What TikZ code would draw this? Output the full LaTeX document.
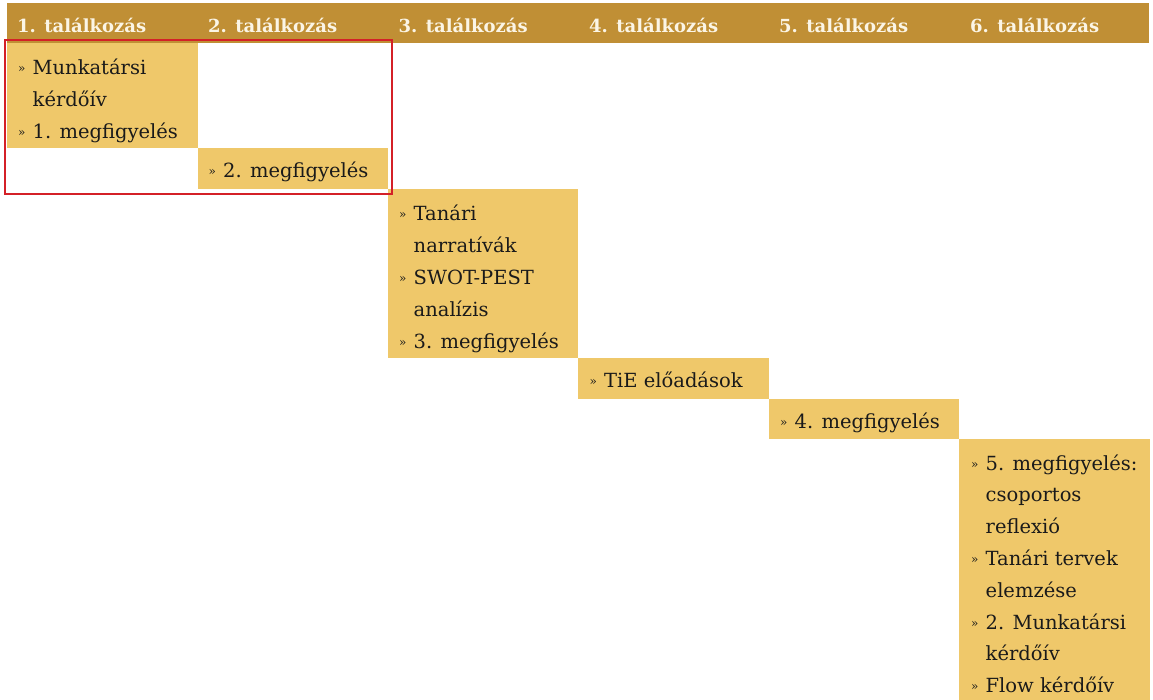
\documentclass[tikz,border=0pt]{standalone}
\usepackage{fontspec}
\setmainfont{DejaVu Serif}
\definecolor{hdr}{HTML}{C08F35}
\definecolor{cellc}{HTML}{EFC86A}
\definecolor{redc}{HTML}{D42027}
\definecolor{ink}{HTML}{1A1A1A}
\definecolor{hdrtxt}{HTML}{FBF5E6}
\newcommand\bl{\makebox[14.5pt][l]{\raisebox{2pt}{\fontsize{12}{12}\selectfont »}}}
\newcommand\ind{\hspace*{14.5pt}}
\newcommand\celltext[1]{\parbox[t]{180pt}{\fontsize{19.5}{31.8}\selectfont\raggedright #1}}
\tikzset{
  bar/.style={fill=hdr, draw=none, inner sep=0pt, anchor=north west, minimum width=1142pt, minimum height=40pt},
  cell/.style={fill=cellc, draw=none, inner sep=0pt, anchor=north west, minimum width=190.4pt},
  htxt/.style={text=hdrtxt, inner sep=0pt, anchor=base west, font=\fontsize{18}{20}\selectfont\bfseries},
  ctxt/.style={text=ink, inner sep=0pt, anchor=base west},
  frame/.style={draw=redc, line width=2pt}
}
\begin{document}
\begin{tikzpicture}[x=1pt,y=-1pt]
\useasboundingbox (0,0) rectangle (1153,700);
\node[bar] (hbar) at (7,3) {};
\node[htxt] (h1) at (17,33) {1. találkozás};
\node[htxt] (h2) at (208,33) {2. találkozás};
\node[htxt] (h3) at (398.5,33) {3. találkozás};
\node[htxt] (h4) at (589,33) {4. találkozás};
\node[htxt] (h5) at (779,33) {5. találkozás};
\node[htxt] (h6) at (970,33) {6. találkozás};
% cells
\node[cell, minimum height=105pt] (b1) at (7,43) {};
\node[cell, minimum height=41pt] (b2) at (197.4,148) {};
\node[cell, minimum height=169pt] (b3) at (387.8,189) {};
\node[cell, minimum height=41pt] (b4) at (578.2,358) {};
\node[cell, minimum height=40pt] (b5) at (768.6,399) {};
\node[cell, minimum height=262pt] (b6) at (959,439) {};
% texts
\node[ctxt] (t1) at (18,75) {\celltext{\bl Munkatársi\\ \ind kérdőív\\ \bl 1. megfigyelés}};
\node[ctxt] (t2) at (208.5,178) {\celltext{\bl 2. megfigyelés}};
\node[ctxt] (t3) at (399,221) {\celltext{\bl Tanári\\ \ind narratívák\\ \bl SWOT-PEST\\ \ind analízis\\ \bl 3. megfigyelés}};
\node[ctxt] (t4) at (589.5,387) {\celltext{\bl TiE előadások}};
\node[ctxt] (t5) at (780,428) {\celltext{\bl 4. megfigyelés}};
\node[ctxt] (t6) at (971,470) {\celltext{\bl 5. megfigyelés:\\ \ind csoportos\\ \ind reflexió\\ \bl Tanári tervek\\ \ind elemzése\\ \bl 2. Munkatársi\\ \ind kérdőív\\ \bl Flow kérdőív}};
% highlight frame
\draw[frame] ([xshift=-2.5pt,yshift=2.5pt]b1.north west) rectangle ([xshift=4pt,yshift=-5pt]b2.south east);
\end{tikzpicture}
\end{document}
